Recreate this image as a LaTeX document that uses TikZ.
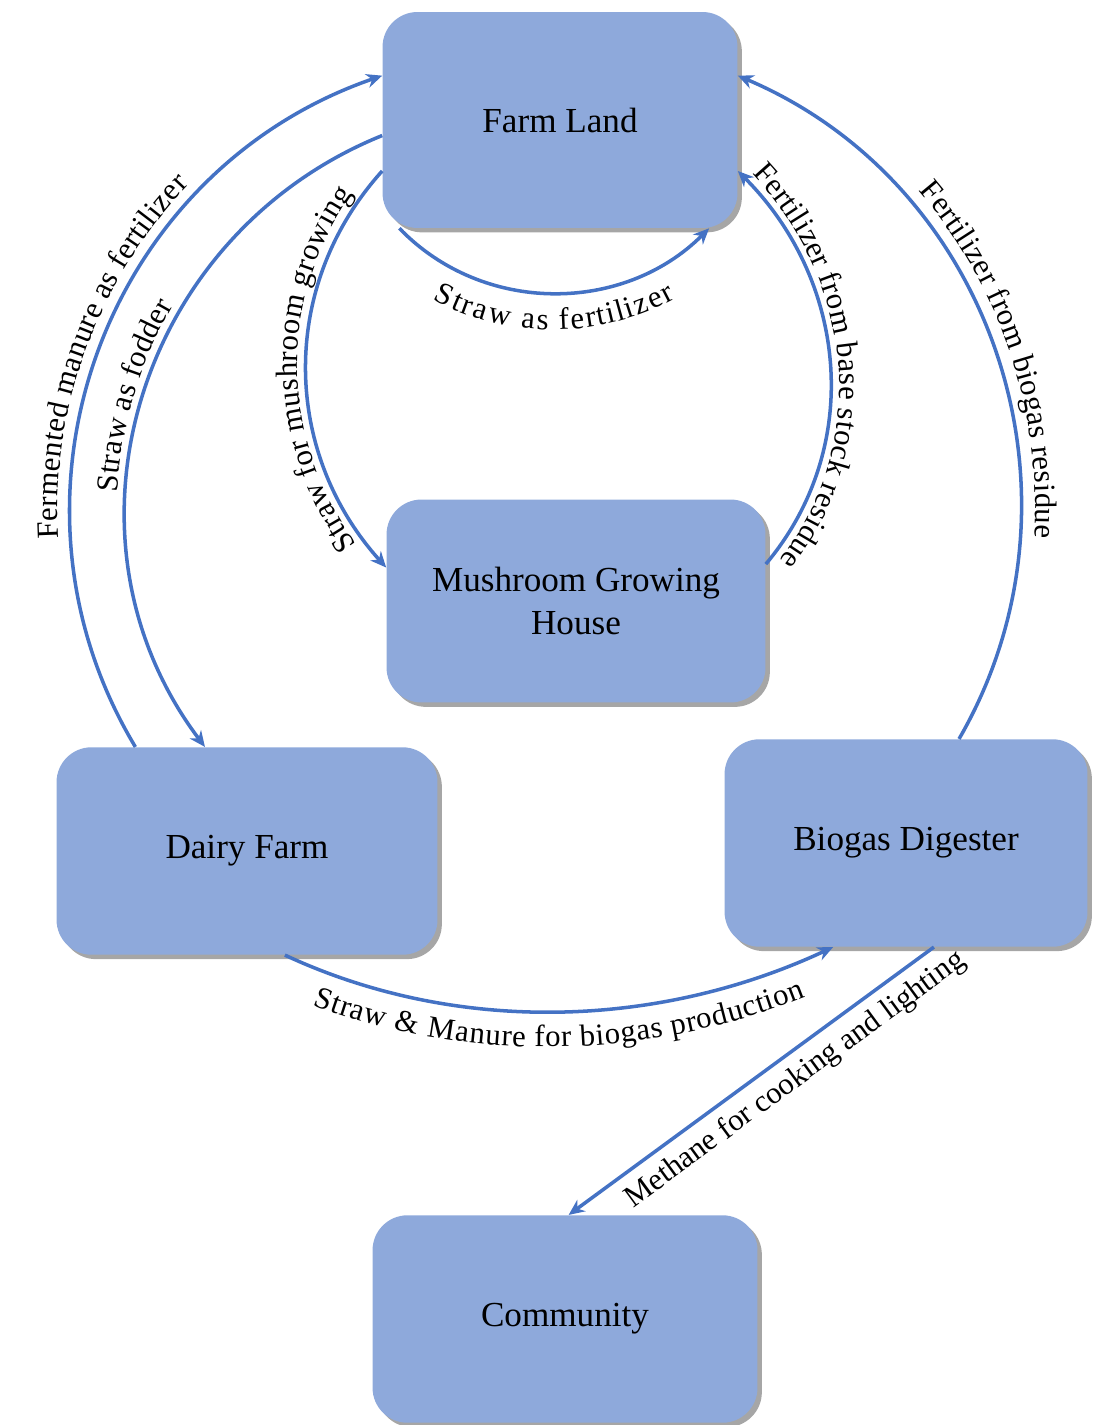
\documentclass[tikz,border=0pt]{standalone}
\usepackage{fontspec}
\setmainfont{Liberation Serif}
\usepackage{tikz}
\usetikzlibrary{arrows.meta}
\usetikzlibrary{shadows}
\usetikzlibrary{decorations.text}
\definecolor{boxblue}{RGB}{142,169,219}
\definecolor{flowblue}{RGB}{68,114,196}
\newcommand{\boxfont}{\fontsize{20}{24}\selectfont}
\newcommand{\flowfont}{\fontsize{17.5}{20}\selectfont}
\tikzset{
  unit/.style={fill=boxblue, rounded corners=0.7cm, align=center, font=\boxfont, minimum height=4.15cm,
    drop shadow={shadow xshift=2.5pt, shadow yshift=-2.5pt, opacity=0.35, fill=black}},
  flow/.style={draw=flowblue, line width=2pt, -{Stealth[length=9pt,width=8pt]}},
  flowlabel/.style 2 args={decorate, decoration={text along path, text align=center, raise=#2, text={|\flowfont|#1}}}
}

\begin{document}
\begin{tikzpicture}[x=0.02cm, y=0.02cm]
        \useasboundingbox (0,0) rectangle (1102,-1425);
        % units
        \node[unit, minimum width=7.1cm, minimum height=4.32cm] (farm) at (560,-120) {Farm Land};
        \node[unit, minimum width=7.58cm, minimum height=4.06cm] (mushroom) at (576,-601) {Mushroom Growing\\House};
        \node[unit, minimum width=7.62cm] (dairy) at (247,-851) {Dairy Farm};
        \node[unit, minimum width=7.26cm] (biogas) at (906,-843) {Biogas Digester};
        \node[unit, minimum width=7.7cm] (community) at (565,-1319) {Community};
        % farm land and dairy farm
        \draw[flow] (dairy.137) to[out=121, in=199, looseness=1.05] (farm.166);
        \path[flowlabel={Fermented manure as fertilizer}{7pt}] (dairy.137) to[out=121, in=199, looseness=1.05] (farm.166);
        \draw[flow] (farm.185) to[out=202, in=127, looseness=1.06] (dairy.112);
        \path[flowlabel={Straw as fodder}{5pt}] (dairy.112) to[out=127, in=202, looseness=1.06] (farm.185);
        % farm land and mushroom house
        \draw[flow] (farm.196) to[out=228, in=132] (mushroom.170);
        \path[flowlabel={Straw for mushroom growing}{5pt}] (mushroom.170) to[out=132, in=228] (farm.196);
        \draw[flow] (mushroom.11) to[out=50, in=315] (farm.344);
        \path[flowlabel={Fertilizer from base stock residue}{5pt}] (farm.344) to[out=315, in=50] (mushroom.11);
        % farm land to itself
        \draw[flow] (farm.214) to[out=314, in=225] (farm.324);
        \path[flowlabel={Straw as fertilizer}{-21pt}] (farm.214) to[out=314, in=225] (farm.324);
        % biogas digester
        \draw[flow] (biogas.63) to[out=60, in=337, looseness=1.02] (farm.14);
        \path[flowlabel={Fertilizer from biogas residue}{8pt}] (farm.14) to[out=337, in=60, looseness=1.02] (biogas.63);
        \draw[flow] (dairy.290) to[out=335, in=205, looseness=0.89] (biogas.235);
        \path[flowlabel={Straw {\&} Manure for biogas production}{-20pt}] (dairy.290) to[out=335, in=205, looseness=0.89] (biogas.235);
        \draw[flow] (biogas.285) -- node[sloped, below=2pt, pos=0.42, font=\flowfont] {Methane for cooking and lighting} (community.88);
\end{tikzpicture}
\end{document}
